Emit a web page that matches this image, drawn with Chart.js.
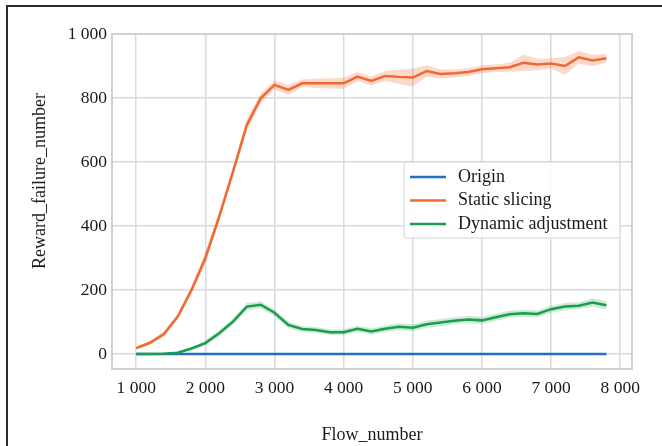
<!DOCTYPE html>
<html>
<head>
<meta charset="utf-8">
<script src="https://cdn.jsdelivr.net/npm/chart.js@4.4.1/dist/chart.umd.min.js"></script>
<style>
body { margin: 0; background: #fff; }
#wrap { position: relative; width: 662px; height: 446px; overflow: hidden; }
#frame { position: absolute; left: 6px; top: 5px; width: 700px; height: 500px;
         border-top: 2px solid #2b2b2b; border-left: 2px solid #2b2b2b; pointer-events: none; }
</style>
</head>
<body>
<div id="wrap">
  <canvas id="line-chart" width="662" height="446"></canvas>
  <div id="frame"></div>
</div>
<script>
// data
var flow = [1000, 1200, 1400, 1600, 1800, 2000, 2200, 2400, 2600, 2800,
            3000, 3200, 3400, 3600, 3800, 4000, 4200, 4400, 4600, 4800,
            5000, 5200, 5400, 5600, 5800, 6000, 6200, 6400, 6600, 6800,
            7000, 7200, 7400, 7600, 7800];
var origin = [0, 0, 0, 0, 0, 0, 0, 0, 0, 0, 0, 0, 0, 0, 0, 0, 0, 0, 0, 0,
              0, 0, 0, 0, 0, 0, 0, 0, 0, 0, 0, 0, 0, 0, 0];
var staticMean = [18, 35, 62, 117, 200, 300, 429, 570, 716, 799,
                  841, 825, 846, 846, 846, 846, 867, 853, 869, 866,
                  864, 884, 875, 877, 881, 890, 893, 896, 910, 905,
                  908, 900, 927, 917, 924];
var staticSpread = [4, 6, 8, 8, 12, 18, 14, 12, 18, 15,
                    14, 16, 12, 15, 16, 18, 14, 14, 15, 22,
                    28, 18, 14, 12, 12, 12, 12, 14, 26, 18,
                    16, 28, 20, 18, 14];
var dynamicMean = [0, 0, 1, 4, 17, 34, 65, 101, 148, 154,
                   129, 91, 78, 75, 68, 68, 79, 70, 79, 85,
                   82, 93, 98, 104, 108, 105, 115, 124, 127, 125,
                   140, 148, 151, 161, 152];
var dynamicSpread = [1, 1, 2, 3, 5, 7, 9, 10, 11, 11,
                     11, 10, 9, 9, 9, 9, 9, 10, 10, 11,
                     11, 11, 11, 11, 11, 11, 11, 11, 11, 11,
                     11, 11, 11, 13, 13];
var xTicks = [1000, 2000, 3000, 4000, 5000, 6000, 7000, 8000];
var yTicks = [0, 200, 400, 600, 800, 1000];

var FONT = "'Liberation Serif', 'DejaVu Serif', serif";

function pts(vals) {
    return flow.map(function (x, i) { return { x: x, y: vals[i] }; });
}
function bandPts(mean, spread, sign) {
    return flow.map(function (x, i) { return { x: x, y: mean[i] + sign * spread[i] }; });
}
function fmt(v) {
    return v >= 1000 ? Math.floor(v / 1000) + ' ' + String(v % 1000).padStart(3, '0') : String(v);
}

// legend drawn inside the plot, matplotlib style
var insideLegend = {
    id: 'insideLegend',
    afterDraw: function (chart) {
        var ctx = chart.ctx;
        var items = chart.data.datasets.filter(function (d) { return !d.band; });
        var x0 = 404, y0 = 162, w = 216, h = 76;
        ctx.save();
        ctx.beginPath();
        ctx.roundRect(x0, y0, w, h, 3);
        ctx.fillStyle = 'rgba(255,255,255,0.9)';
        ctx.fill();
        ctx.strokeStyle = '#d4d4d4';
        ctx.lineWidth = 1;
        ctx.stroke();
        ctx.font = '18px ' + FONT;
        ctx.textBaseline = 'middle';
        items.forEach(function (d, i) {
            var y = y0 + 15 + i * 23.5;
            ctx.strokeStyle = d.borderColor;
            ctx.lineWidth = 2.5;
            ctx.beginPath();
            ctx.moveTo(x0 + 6, y);
            ctx.lineTo(x0 + 42, y);
            ctx.stroke();
            ctx.fillStyle = '#1a1a1a';
            ctx.fillText(d.label, x0 + 54, y);
        });
        ctx.restore();
    }
};

// plot frame + y title
var extras = {
    id: 'extras',
    beforeDatasetsDraw: function (chart) {
        var a = chart.chartArea, ctx = chart.ctx;
        ctx.save();
        ctx.strokeStyle = '#ccd2d9';
        ctx.lineWidth = 2;
        ctx.strokeRect(a.left, a.top, a.right - a.left, a.bottom - a.top);
        ctx.restore();
    },
    afterDraw: function (chart) {
        var ctx = chart.ctx;
        ctx.save();
        ctx.translate(40, 181);
        ctx.rotate(-Math.PI / 2);
        ctx.font = '18px ' + FONT;
        ctx.fillStyle = '#1a1a1a';
        ctx.textAlign = 'center';
        ctx.textBaseline = 'middle';
        ctx.fillText('Reward_failure_number', 0, 0);
        ctx.restore();
    }
};

new Chart(document.getElementById("line-chart"), {
    type: 'line',
    data: {
        datasets: [
            { band: true, data: bandPts(staticMean, staticSpread, 1), borderWidth: 0, pointRadius: 0,
              fill: false, order: 10 },
            { band: true, data: bandPts(staticMean, staticSpread, -1), borderWidth: 0, pointRadius: 0,
              fill: '-1', backgroundColor: 'rgba(240,106,48,0.25)', order: 10 },
            { band: true, data: bandPts(dynamicMean, dynamicSpread, 1), borderWidth: 0, pointRadius: 0,
              fill: false, order: 10 },
            { band: true, data: bandPts(dynamicMean, dynamicSpread, -1), borderWidth: 0, pointRadius: 0,
              fill: '-1', backgroundColor: 'rgba(26,158,78,0.22)', order: 10 },
            { label: 'Origin', data: pts(origin), borderColor: '#2270c0', borderWidth: 2.5,
              pointRadius: 0, fill: false, order: 3 },
            { label: 'Static slicing', data: pts(staticMean), borderColor: '#f06a30', borderWidth: 2.5,
              pointRadius: 0, fill: false, order: 2 },
            { label: 'Dynamic adjustment', data: pts(dynamicMean), borderColor: '#1a9e4e', borderWidth: 2.5,
              pointRadius: 0, fill: false, order: 1 }
        ]
    },
    options: {
        responsive: false,
        animation: false,
        devicePixelRatio: 1,
        layout: { padding: { top: 34, right: 30, left: 0, bottom: 0 } },
        plugins: {
            legend: { display: false },
            tooltip: { enabled: false }
        },
        scales: {
            x: {
                type: 'linear',
                min: 650,
                max: 8170,
                afterBuildTicks: function (scale) {
                    scale.ticks = xTicks.map(function (v) { return { value: v }; });
                },
                afterFit: function (scale) { scale.height = 77; },
                grid: { color: '#d6dbe1', lineWidth: 1.5, drawTicks: false },
                border: { display: false },
                ticks: { padding: 9, color: '#1a1a1a', font: { family: FONT, size: 17.5 },
                         callback: function (v) { return fmt(v); } },
                title: { display: true, text: 'Flow_number', color: '#1a1a1a',
                         font: { family: FONT, size: 18 }, padding: { top: 0, bottom: 0 } }
            },
            y: {
                min: -47,
                max: 1000,
                afterBuildTicks: function (scale) {
                    scale.ticks = yTicks.map(function (v) { return { value: v }; });
                },
                afterFit: function (scale) { scale.width = 112; },
                grid: { color: '#d6dbe1', lineWidth: 1.5, drawTicks: false },
                border: { display: false },
                ticks: { padding: 5, color: '#1a1a1a', font: { family: FONT, size: 17.5 },
                         callback: function (v) { return fmt(v); } }
            }
        }
    },
    plugins: [insideLegend, extras]
});
</script>
</body>
</html>
